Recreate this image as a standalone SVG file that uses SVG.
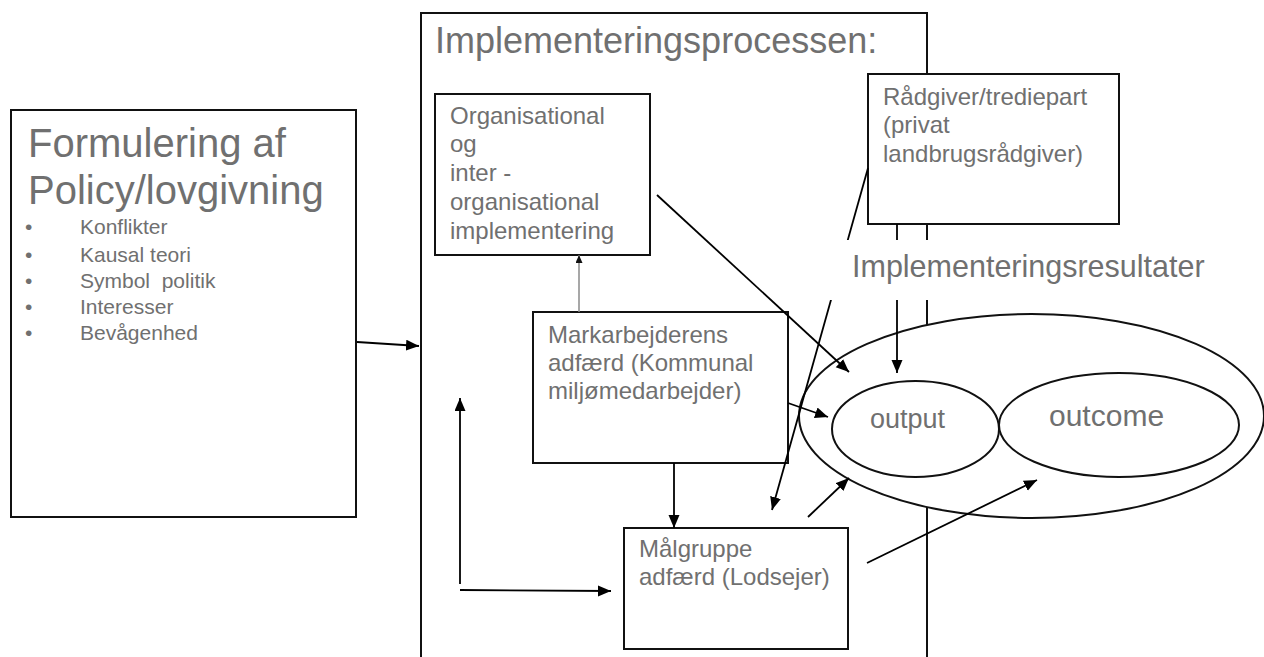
<svg xmlns="http://www.w3.org/2000/svg" width="1264" height="657" viewBox="0 0 1264 657">
<defs>
<marker id="ah" markerUnits="userSpaceOnUse" markerWidth="14" markerHeight="12" refX="13" refY="5.5" orient="auto"><path d="M0,0 L13,5.5 L0,11 z" fill="#000"/></marker>
<marker id="ahs" markerUnits="userSpaceOnUse" markerWidth="9" markerHeight="8" refX="8" refY="3.5" orient="auto"><path d="M0,0 L8,3.5 L0,7 z" fill="#111"/></marker>
<style>
.box{fill:#fff;stroke:#111;stroke-width:2}
.frame{fill:none;stroke:#111;stroke-width:2}
.t{font-family:"Liberation Sans",Arial,sans-serif;fill:#707070}
.c{stroke:#000;stroke-width:1.8;fill:none;marker-end:url(#ah)}
.ell{fill:#fff;stroke:#111;stroke-width:2}
</style>
</defs>
<rect width="1264" height="657" fill="#fff"/>

<g id="process">
<rect class="frame" x="421" y="13" width="506" height="700"/>
<text class="t" x="435" y="53" font-size="36">Implementeringsprocessen:</text>
</g>

<g id="policy">
<rect class="box" x="11" y="110" width="345" height="407"/>
<text class="t" x="28" y="157" font-size="40">Formulering af</text>
<text class="t" x="28" y="204" font-size="40">Policy/lovgivning</text>
<g class="t" font-size="21">
<text x="25" y="234">•</text><text x="80" y="234">Konflikter</text>
<text x="25" y="262">•</text><text x="80" y="262">Kausal teori</text>
<text x="25" y="288">•</text><text x="80" y="288">Symbol&#160; politik</text>
<text x="25" y="314">•</text><text x="80" y="314">Interesser</text>
<text x="25" y="340">•</text><text x="80" y="340">Bevågenhed</text>
</g>
</g>

<g id="org">
<rect class="box" x="435" y="94" width="215" height="161"/>
<g class="t" font-size="24">
<text x="450" y="124">Organisational</text>
<text x="450" y="152">og</text>
<text x="450" y="181">inter -</text>
<text x="450" y="210">organisational</text>
<text x="450" y="239">implementering</text>
</g>
</g>

<g id="mark">
<rect class="box" x="533" y="312" width="255" height="151"/>
<g class="t" font-size="24">
<text x="548" y="343">Markarbejderens</text>
<text x="548" y="371">adfærd (Kommunal</text>
<text x="548" y="399">miljømedarbejder)</text>
</g>
</g>

<g id="maalgruppe">
<rect class="box" x="624" y="528" width="224" height="121"/>
<g class="t" font-size="24">
<text x="639" y="557">Målgruppe</text>
<text x="639" y="585">adfærd (Lodsejer)</text>
</g>
</g>

<g id="raadgiver">
<rect class="box" x="868" y="74" width="251" height="150"/>
<g class="t" font-size="24">
<text x="883" y="105">Rådgiver/trediepart</text>
<text x="883" y="133">(privat</text>
<text x="883" y="162">landbrugsrådgiver)</text>
</g>
</g>

<g id="resultater">
<ellipse class="ell" cx="1031.5" cy="416" rx="232.5" ry="102"/>
</g>
<g id="output">
<ellipse class="ell" cx="915.5" cy="429" rx="83.5" ry="48"/>
<text class="t" x="870" y="428" font-size="27">output</text>
</g>
<g id="outcome">
<ellipse class="ell" cx="1119" cy="425" rx="120" ry="52"/>
<text class="t" x="1049" y="426" font-size="30">outcome</text>
</g>

<g id="connectors">
<line class="c" x1="357" y1="342" x2="419" y2="346"/>
<line x1="579" y1="312" x2="579" y2="255" stroke="#8a8a8a" stroke-width="1.5" marker-end="url(#ahs)"/>
<line class="c" x1="657" y1="195" x2="849" y2="372"/>
<line class="c" x1="868" y1="168" x2="772" y2="510"/>
<line class="c" x1="897" y1="224" x2="897" y2="373"/>
<line class="c" x1="788" y1="403" x2="828" y2="417"/>
<line class="c" x1="674" y1="463" x2="674" y2="528"/>
<line class="c" x1="808" y1="517" x2="849" y2="478"/>
<line class="c" x1="867" y1="563" x2="1037" y2="480"/>
<line class="c" x1="460" y1="584" x2="460" y2="398"/>
<line class="c" x1="460" y1="590" x2="611" y2="591"/>
</g>

<g id="resultater-label">
<rect x="825" y="240" width="400" height="60" fill="#fff"/>
<text class="t" x="852" y="277" font-size="30.5">Implementeringsresultater</text>
</g>
</svg>
